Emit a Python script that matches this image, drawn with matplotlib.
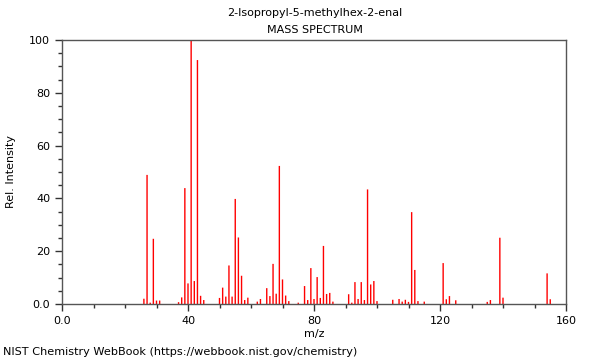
import matplotlib
matplotlib.use("Agg")
import matplotlib.pyplot as plt
from matplotlib.ticker import MultipleLocator, FixedLocator

title = "2-Isopropyl-5-methylhex-2-enal"
subtitle = "MASS SPECTRUM"
footer = "NIST Chemistry WebBook (https://webbook.nist.gov/chemistry)"

mz = [26, 27, 28, 29, 30, 31, 37, 38, 39, 40, 41, 42, 43, 44, 45,
      50, 51, 52, 53, 54, 55, 56, 57, 58, 59, 62, 63, 65, 66, 67, 68,
      69, 70, 71, 72, 75, 77, 78, 79, 80, 81, 82, 83, 84, 85, 86,
      91, 92, 93, 94, 95, 96, 97, 98, 99, 100, 105, 107, 108, 109, 110,
      111, 112, 113, 115, 121, 122, 123, 125, 135, 136, 139, 140, 154, 155]
intensity = [2.0, 48.9, 0.5, 24.7, 1.3, 1.3, 0.7, 2.5, 43.9, 7.8, 100, 8.7, 92.4, 3.1, 1.5,
             2.3, 6.2, 2.8, 14.6, 2.8, 39.8, 25.2, 10.7, 1.5, 2.4, 0.9, 1.9, 6.0, 3.0, 15.2, 3.9,
             52.3, 9.3, 3.2, 1.1, 0.5, 6.8, 1.5, 13.6, 1.9, 10.2, 2.3, 22.0, 3.8, 4.2, 0.9,
             3.7, 0.5, 8.3, 1.9, 8.3, 1.5, 43.4, 7.4, 8.7, 1.1, 1.6, 1.9, 0.9, 1.6, 0.8,
             34.8, 12.9, 1.1, 0.9, 15.5, 1.8, 3.0, 1.4, 0.8, 1.5, 25.1, 2.4, 11.6, 1.8]

x_ticks = [0, 40, 80, 120, 160]
x_tick_labels = ["0.0", "40", "80", "120", "160"]
y_ticks = [0, 20, 40, 60, 80, 100]
y_tick_labels = ["0.0", "20", "40", "60", "80", "100"]

fig = plt.figure(figsize=(6, 3.6), dpi=100)
ax = fig.add_axes([62/600, 56/360, 504/600, 264/360])
ax.vlines(mz, 0, intensity, colors="#ff0000", linewidth=1.0, snap=False)
ax.set_xlim(0, 160)
ax.set_ylim(0, 100)
ax.xaxis.set_major_locator(FixedLocator(x_ticks))
ax.set_xticklabels(x_tick_labels)
ax.yaxis.set_major_locator(FixedLocator(y_ticks))
ax.set_yticklabels(y_tick_labels)
ax.xaxis.set_minor_locator(MultipleLocator(10))
ax.yaxis.set_minor_locator(MultipleLocator(5))
for s in ax.spines.values():
    s.set_color("#555555")
    s.set_linewidth(1.0)
ax.tick_params(which="major", length=5, width=1, color="#333333", labelsize=8, direction="out")
ax.tick_params(which="minor", length=3, width=1, color="#333333", direction="out")
ax.set_xlabel("m/z", fontsize=8, labelpad=2)
ax.set_ylabel("Rel. Intensity", fontsize=8, labelpad=9.5)
fig.text(315/600, 1 - 13/360, title, ha="center", va="center", fontsize=8)
fig.text(315/600, 1 - 30/360, subtitle, ha="center", va="center", fontsize=8)
fig.text(3/600, 1 - 352/360, footer, ha="left", va="center", fontsize=8.1)
fig.savefig("out.png", dpi=100)
